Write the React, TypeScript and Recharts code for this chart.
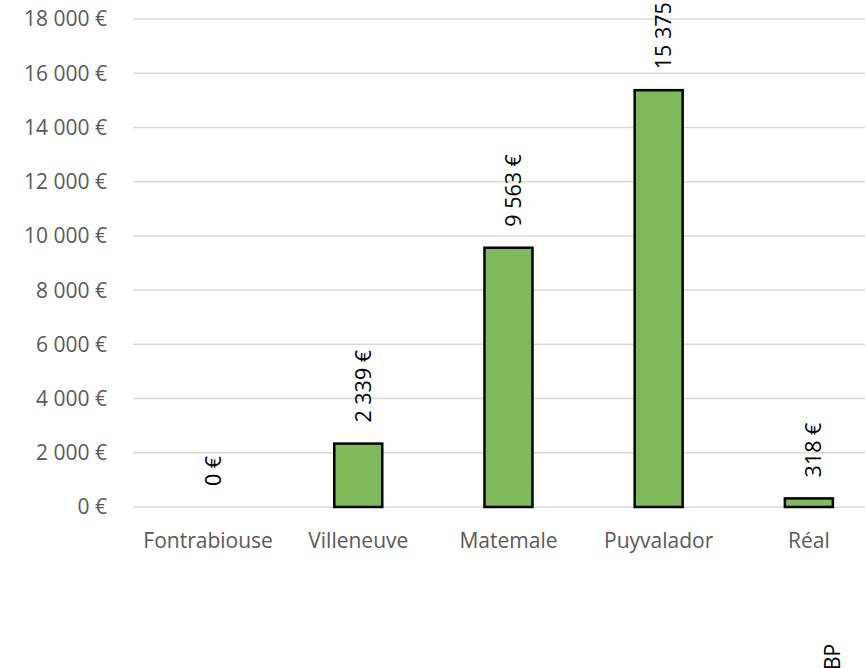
import { BarChart, Bar, XAxis, YAxis, CartesianGrid } from "recharts";

const communes = ["Fontrabiouse", "Villeneuve", "Matemale", "Puyvalador", "Réal"];
const montants = [0, 2339, 9563, 15375, 318];
const yTicks = [0, 2000, 4000, 6000, 8000, 10000, 12000, 14000, 16000, 18000];

const data = communes.map((name, i) => ({ name, value: montants[i] }));

const FONT = "'Open Sans', sans-serif";

const euro = (v: number) => `${v.toLocaleString("fr-FR").replace(/\s/g, " ")} €`;

// bar + rotated value label, drawn together so the 0 € label still shows
const BarWithLabel = (props: any) => {
  const { x, y, width, height, value } = props;
  const v = Array.isArray(value) ? value[1] - value[0] : value;
  const cx = x + width / 2 + 4;
  const ty = y - 21;
  return (
    <g>
      {height > 0 && (
        <rect x={x} y={y} width={width} height={height} fill="#7FBA5A" stroke="#000" strokeWidth={2.5} />
      )}
      <text
        x={cx}
        y={ty}
        transform={`rotate(-90 ${cx} ${ty})`}
        textAnchor="start"
        dominantBaseline="central"
        fontSize={21.5}
        fontFamily={FONT}
        fill="#000"
      >
        {euro(v)}
      </text>
    </g>
  );
};

export default function App() {
  return (
    <div style={{ position: "fixed", left: 0, top: 0, width: 865, height: 668, overflow: "hidden", background: "#fff" }}>
      <BarChart width={890} height={668} data={data} margin={{ top: 19, right: 6, bottom: 131, left: 0 }} barCategoryGap="34%">
        <CartesianGrid vertical={false} stroke="#D9D9D9" strokeWidth={1.5} />
        <XAxis
          dataKey="name"
          axisLine={false}
          tickLine={false}
          height={30}
          tickMargin={20}
          interval={0}
          tick={{ fill: "#595959", fontSize: 21, fontFamily: FONT }}
        />
        <YAxis
          domain={[0, 18000]}
          ticks={yTicks}
          width={133}
          axisLine={false}
          tickLine={false}
          tickMargin={20}
          tickFormatter={euro}
          tick={{ fill: "#595959", fontSize: 21, fontFamily: FONT }}
        />
        <Bar dataKey="value" isAnimationActive={false} shape={<BarWithLabel />} />
      </BarChart>
      <div
        style={{
          position: "absolute",
          left: 822,
          top: 670,
          transform: "rotate(-90deg)",
          transformOrigin: "0 0",
          fontFamily: FONT,
          fontSize: 21,
          color: "#000",
          lineHeight: "21px",
          whiteSpace: "nowrap",
        }}
      >
        BP
      </div>
    </div>
  );
}
